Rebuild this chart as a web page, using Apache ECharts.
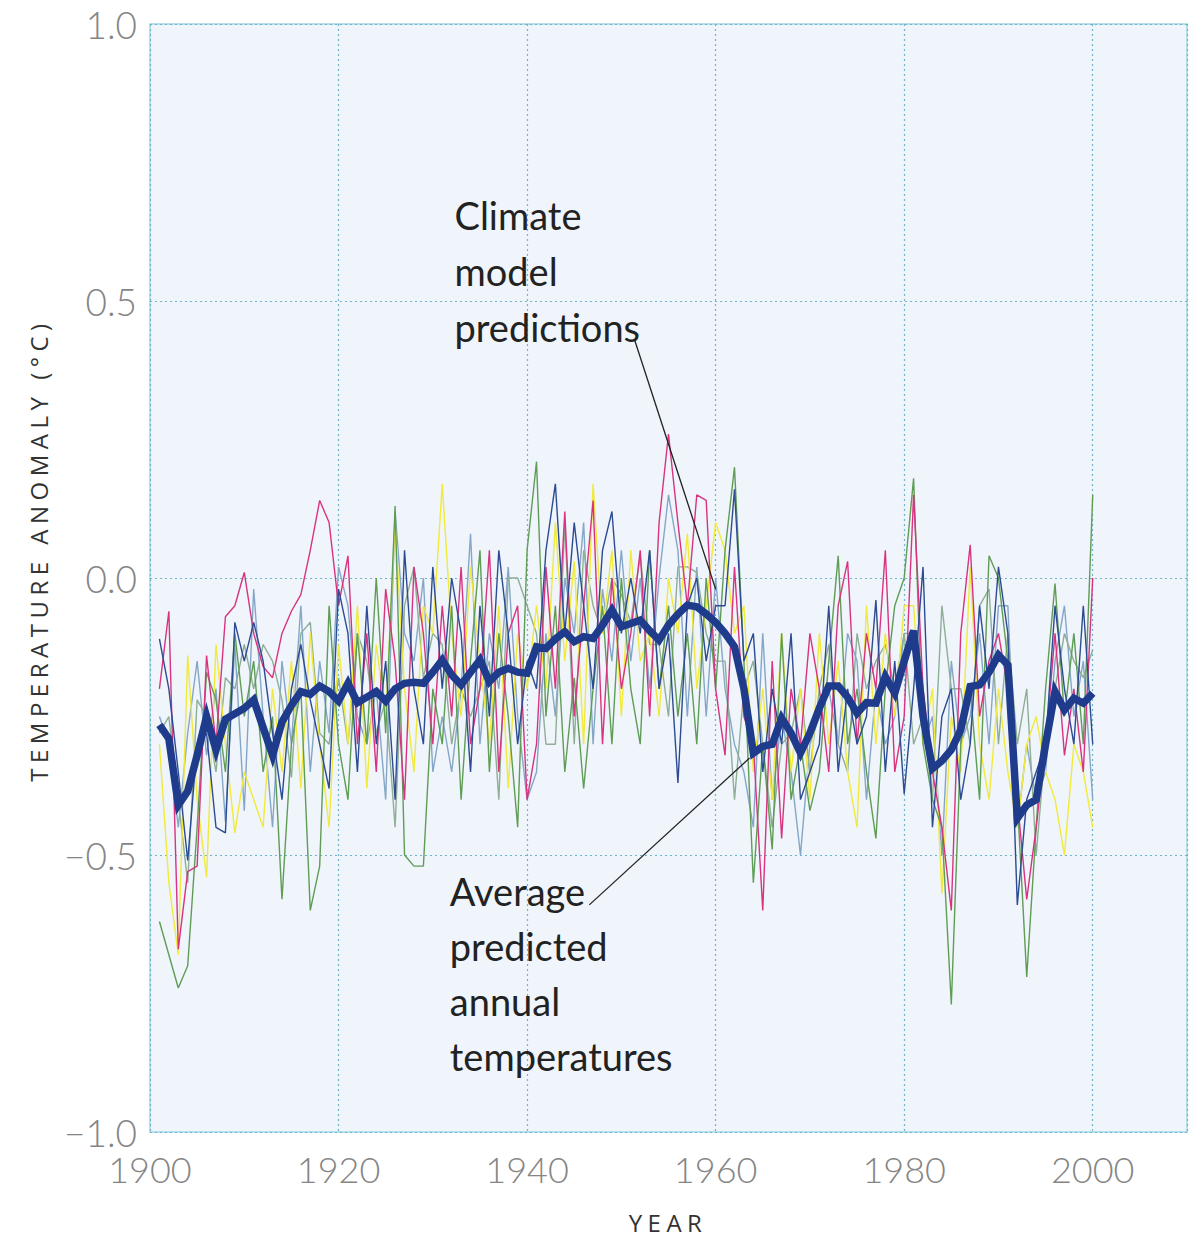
<!DOCTYPE html>
<html>
<head>
<meta charset="utf-8">
<script src="https://cdn.jsdelivr.net/npm/echarts@6/dist/echarts.min.js"></script>
<style>
html,body{margin:0;padding:0;background:#fff;}
#c{width:1194px;height:1238px;}
</style>
</head>
<body>
<div id="c"></div>
<script>
// ---- data ----
const startYear = 1901;
const xTicks = [1900, 1920, 1940, 1960, 1980, 2000];
const yTicks = [-1.0, -0.5, 0.0, 0.5, 1.0];

const averagePredicted = [
 -0.265,-0.29,-0.41,-0.385,-0.32,-0.25,-0.31,-0.255,-0.245,-0.235,
 -0.22,-0.27,-0.32,-0.26,-0.23,-0.205,-0.21,-0.195,-0.205,-0.222,
 -0.19,-0.225,-0.215,-0.205,-0.222,-0.2,-0.19,-0.188,-0.19,-0.17,
 -0.148,-0.175,-0.193,-0.17,-0.148,-0.187,-0.17,-0.163,-0.17,-0.172,
 -0.124,-0.127,-0.11,-0.097,-0.115,-0.106,-0.109,-0.085,-0.058,-0.088,
 -0.082,-0.076,-0.095,-0.112,-0.085,-0.065,-0.049,-0.052,-0.065,-0.08,
 -0.1,-0.124,-0.2,-0.316,-0.304,-0.3,-0.253,-0.28,-0.316,-0.28,
 -0.235,-0.195,-0.195,-0.215,-0.244,-0.225,-0.226,-0.178,-0.208,-0.15,
 -0.095,-0.25,-0.344,-0.33,-0.31,-0.274,-0.196,-0.193,-0.17,-0.139,
 -0.157,-0.434,-0.41,-0.40,-0.3,-0.205,-0.238,-0.217,-0.226,-0.208
];

const modelMagenta = [
 -0.20,-0.06,-0.67,-0.53,-0.52,-0.14,-0.30,-0.07,-0.05,0.01,
 -0.10,-0.16,-0.18,-0.10,-0.06,-0.03,0.05,0.14,0.10,-0.05,
 0.04,-0.30,-0.10,-0.35,-0.02,-0.15,-0.40,0.02,-0.10,-0.30,
 -0.05,-0.25,0.02,-0.30,-0.20,0.05,-0.35,-0.10,-0.05,-0.40,
 -0.30,0.02,-0.20,0.12,-0.25,-0.05,0.14,-0.30,0.00,-0.20,
 -0.10,0.05,-0.25,0.10,0.26,0.10,-0.05,0.15,0.14,-0.20,
 -0.32,0.02,-0.25,-0.30,-0.60,-0.15,-0.47,-0.20,-0.30,-0.10,
 -0.20,-0.35,-0.05,0.03,-0.30,-0.10,-0.20,0.05,-0.35,-0.25,
 0.15,-0.20,-0.35,-0.45,-0.60,-0.10,0.06,-0.25,-0.15,-0.10,
 -0.20,-0.40,-0.58,-0.45,-0.30,-0.10,-0.32,-0.20,-0.35,0.00
];
const modelYellow = [
 -0.30,-0.55,-0.68,-0.14,-0.40,-0.54,-0.12,-0.30,-0.46,-0.35,
 -0.40,-0.45,-0.20,-0.35,-0.15,-0.38,-0.10,-0.30,-0.45,-0.12,
 -0.30,-0.05,-0.38,-0.12,-0.25,0.10,-0.20,-0.35,-0.05,-0.10,
 0.17,-0.10,-0.25,0.02,-0.15,-0.30,-0.05,-0.38,-0.10,-0.20,
 -0.05,-0.20,0.10,-0.15,0.03,-0.30,0.17,-0.10,0.05,-0.25,
 0.05,-0.15,-0.10,-0.25,0.00,-0.10,0.08,-0.20,-0.05,0.10,
 0.05,-0.10,-0.05,-0.35,-0.20,-0.40,-0.10,-0.35,-0.20,-0.40,
 -0.10,-0.30,-0.15,-0.35,-0.45,-0.05,-0.30,-0.10,-0.25,-0.05,
 -0.05,-0.30,-0.20,-0.57,-0.25,-0.35,0.02,-0.30,-0.40,-0.20,
 -0.35,-0.45,-0.30,-0.25,-0.35,-0.40,-0.50,-0.30,-0.35,-0.45
];
const modelGreen = [
 -0.62,-0.68,-0.74,-0.70,-0.45,-0.17,-0.22,-0.35,-0.10,-0.25,
 -0.15,-0.35,-0.25,-0.58,-0.30,-0.20,-0.60,-0.52,-0.05,-0.30,
 -0.40,-0.10,-0.30,0.00,-0.28,0.13,-0.50,-0.52,-0.52,-0.20,
 -0.30,-0.05,-0.40,-0.15,0.05,-0.35,-0.10,-0.25,-0.45,0.05,
 0.21,-0.25,-0.05,-0.35,-0.18,-0.38,-0.20,-0.05,-0.30,0.00,
 -0.20,-0.30,0.05,-0.20,-0.05,-0.25,-0.10,-0.30,0.00,-0.20,
 0.05,0.20,-0.15,-0.55,-0.30,-0.49,-0.10,-0.40,-0.30,-0.42,
 -0.35,-0.15,0.04,-0.30,-0.20,-0.35,-0.47,-0.20,-0.05,0.00,
 0.18,-0.30,-0.40,-0.45,-0.77,-0.30,-0.20,-0.40,0.04,0.00,
 -0.15,-0.40,-0.72,-0.45,-0.20,-0.01,-0.25,-0.10,-0.30,0.15
];
const modelNavy = [
 -0.11,-0.20,-0.35,-0.51,-0.30,-0.28,-0.45,-0.46,-0.08,-0.15,
 -0.08,-0.15,-0.28,-0.40,-0.20,-0.12,-0.22,-0.30,-0.38,-0.02,
 -0.10,-0.35,-0.05,-0.30,-0.15,-0.40,0.05,-0.20,-0.30,0.02,
 -0.20,0.00,-0.10,-0.35,-0.05,-0.25,0.05,-0.10,-0.30,-0.15,
 -0.20,0.05,0.17,-0.10,0.10,-0.05,-0.20,0.05,0.12,-0.10,
 0.00,-0.10,0.05,-0.20,-0.10,-0.37,-0.05,0.00,-0.15,-0.05,
 -0.05,0.16,-0.15,-0.10,-0.35,-0.20,-0.30,-0.10,-0.40,-0.35,
 -0.30,-0.05,-0.35,-0.20,-0.30,-0.25,-0.04,-0.35,-0.15,-0.39,
 -0.20,0.02,-0.45,-0.25,-0.20,-0.40,-0.30,-0.05,-0.20,0.02,
 -0.10,-0.59,-0.40,-0.35,-0.30,-0.05,-0.20,-0.30,-0.05,-0.30
];
const modelSteel = [
 -0.25,-0.30,-0.45,-0.28,-0.15,-0.32,-0.20,-0.44,-0.12,-0.42,
 -0.02,-0.25,-0.45,-0.15,-0.30,-0.05,-0.35,-0.15,-0.28,0.02,
 -0.05,-0.25,-0.30,-0.20,-0.40,0.12,-0.10,-0.15,0.00,-0.35,
 -0.25,-0.35,-0.20,0.08,-0.30,-0.10,-0.20,0.02,-0.25,-0.40,
 -0.35,-0.10,-0.25,0.00,-0.10,0.10,-0.30,-0.02,-0.15,0.05,
 -0.15,0.00,-0.20,0.00,0.15,0.05,-0.25,0.02,-0.25,0.00,
 -0.20,-0.30,-0.35,-0.45,-0.10,-0.40,-0.25,-0.35,-0.50,-0.30,
 -0.25,-0.20,-0.30,-0.10,-0.15,-0.40,-0.20,-0.30,-0.25,-0.10,
 -0.10,-0.30,-0.25,-0.50,-0.15,-0.30,-0.25,-0.10,-0.30,-0.05,
 -0.05,-0.45,-0.30,-0.40,-0.35,-0.15,-0.05,-0.25,-0.15,-0.40
];
const modelTeal = [
 -0.28,-0.25,-0.40,-0.55,-0.22,-0.25,-0.35,-0.18,-0.20,-0.12,
 -0.20,-0.12,-0.15,-0.22,-0.36,-0.10,-0.08,-0.28,-0.30,-0.18,
 -0.30,-0.10,-0.15,-0.28,-0.22,-0.45,-0.05,0.02,-0.18,-0.10,
 -0.12,-0.30,-0.20,-0.25,-0.20,-0.15,-0.40,0.00,0.00,-0.05,
 -0.10,-0.30,-0.30,0.10,-0.30,0.05,-0.05,-0.10,0.00,-0.03,
 -0.08,0.04,-0.12,-0.12,-0.25,0.02,0.02,0.01,-0.10,-0.15,
 -0.15,-0.40,-0.20,-0.15,-0.30,-0.45,-0.30,-0.28,-0.20,-0.35,
 -0.20,-0.12,-0.30,-0.35,-0.10,-0.20,-0.15,-0.12,-0.20,-0.10,
 -0.30,-0.25,-0.40,-0.05,-0.20,-0.20,-0.30,-0.05,-0.02,-0.30,
 -0.10,-0.30,-0.20,-0.50,-0.30,-0.20,-0.10,-0.15,-0.18,-0.13
];

const labelClimate = 'Climate\nmodel\npredictions';
const labelAverage = 'Average\npredicted\nannual\ntemperatures';
const yTitle = 'TEMPERATURE ANOMALY (°C)';
const xTitle = 'YEAR';

// ---- build ----
function pairs(arr){ return arr.map((v,i)=>[startYear+i, v]); }

const thin = [
  {name:'m1', data:modelSteel,   color:'#86a6c8'},
  {name:'m2', data:modelTeal,    color:'#8fae96'},
  {name:'m3', data:modelYellow,  color:'#f1ea3a'},
  {name:'m4', data:modelGreen,   color:'#5f9c55'},
  {name:'m5', data:modelMagenta, color:'#d8337f'},
  {name:'m6', data:modelNavy,    color:'#2d4b93'}
];

const tickFont = 'Lato,"Liberation Sans",sans-serif';
const noteFont = 'Lato,"Liberation Sans",sans-serif';

const series = thin.map(s=>({
  type:'line', name:s.name, data:pairs(s.data), showSymbol:false, symbol:'none',
  lineStyle:{color:s.color, width:1.4}, z:2, silent:true, animation:false
}));
series.push({
  type:'line', name:'avg', data:pairs(averagePredicted), showSymbol:false, symbol:'none',
  lineStyle:{color:'#1f3b8b', width:7.5, join:'miter'}, z:5, animation:false
});

const chart = echarts.init(document.getElementById('c'), null, {renderer:'svg'});
chart.setOption({
  animation:false,
  backgroundColor:'#ffffff',
  grid:{left:150, top:24, right:7, bottom:106, show:true, backgroundColor:'#eff5fb', borderColor:'#9fd8e4', borderWidth:1.5},
  xAxis:{
    type:'value', min:1900, max:2010, interval:20,
    axisLine:{show:false}, axisTick:{show:false},
    axisLabel:{showMaxLabel:false, color:'#858585', fontSize:36, fontWeight:300, fontFamily:tickFont, margin:19,
      formatter:v=> xTicks.indexOf(v)>=0 ? String(v) : ''},
    splitLine:{show:true, lineStyle:{color:'#6fb3cc', width:1.2, type:[2,3]}}
  },
  yAxis:{
    type:'value', min:-1, max:1, interval:0.5,
    axisLine:{show:false}, axisTick:{show:false},
    axisLabel:{color:'#858585', fontSize:37, fontWeight:300, fontFamily:tickFont, margin:13,
      formatter:v=> yTicks.indexOf(v)>=0 ? ((v<0?'\u2212':'') + Math.abs(v).toFixed(1)) : ''},
    splitLine:{show:true, lineStyle:{color:'#6fb3cc', width:1.2, type:[2,3]}}
  },
  series:series
});

// annotations positioned through the axes
function px(x,y){ return chart.convertToPixel({gridIndex:0}, [x,y]); }
const c1a = px(1951.4, 0.43), c1b = px(1960.0, -0.02);
const c2a = px(1946.6, -0.59), c2b = px(1963.6, -0.325);
const t1 = px(1932.3, 0.705);
const t2 = px(1931.8, -0.515);
const yT = [38, 550], xT = [668, 1222];

chart.setOption({
  graphic:[
    {type:'line', shape:{x1:c1a[0], y1:c1a[1], x2:c1b[0], y2:c1b[1]}, style:{stroke:'#222', lineWidth:1.3}, z:10},
    {type:'line', shape:{x1:c2a[0], y1:c2a[1], x2:c2b[0], y2:c2b[1]}, style:{stroke:'#222', lineWidth:1.3}, z:10},
    {type:'text', x:t1[0], y:t1[1], z:10, style:{text:labelClimate, fill:'#222', font:'38px '+noteFont, lineHeight:56, textAlign:'left', textVerticalAlign:'top'}},
    {type:'text', x:t2[0], y:t2[1], z:10, style:{text:labelAverage, fill:'#222', font:'38px '+noteFont, lineHeight:55, textAlign:'left', textVerticalAlign:'top'}},
    {type:'text', id:'ytitle', x:yT[0], y:yT[1], rotation:Math.PI/2, z:10, style:{text:yTitle, fill:'#333', font:'24px "Open Sans",sans-serif', textAlign:'center', textVerticalAlign:'middle'}},
    {type:'text', id:'xtitle', x:xT[0], y:xT[1], z:10, style:{text:xTitle, fill:'#333', font:'24px "Open Sans",sans-serif', textAlign:'center', textVerticalAlign:'middle'}}
  ]
});

// letter spacing for the axis titles (SVG text)
document.querySelectorAll('#c svg text').forEach(el=>{
  const t = el.textContent;
  if (t === yTitle || t === xTitle) el.setAttribute('letter-spacing', '5.5');
});
</script>
</body>
</html>
